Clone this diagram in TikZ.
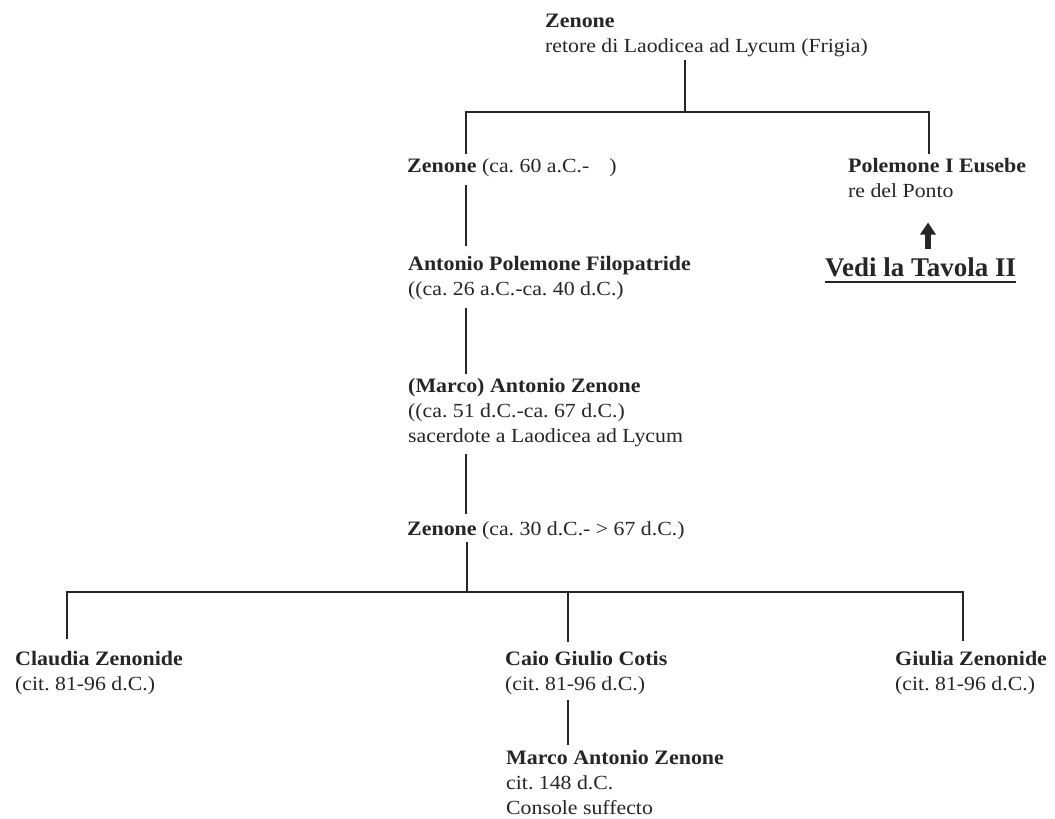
\documentclass[tikz,border=0pt]{standalone}
\usepackage{fontspec}
\setmainfont{Liberation Serif}[FakeStretch=1.09]
\newfontfamily\namefont{Liberation Serif}[FakeStretch=1.07]
\newfontfamily\reffont{Liberation Serif}
\usetikzlibrary{arrows.meta}
\definecolor{ink}{HTML}{262626}
% bold name line inside a person entry
\newcommand\pname[1]{{\namefont\fontsize{20.5}{25}\selectfont\bfseries #1}}

\begin{document}
\frenchspacing
\begin{tikzpicture}[x=1pt,y=-1pt,
  person/.style={anchor=base west, align=left, inner sep=0pt, text=ink,
                 font=\fontsize{20}{25}\selectfont},
  link/.style={draw=ink, line width=2.9pt},
  pointer/.style={draw=ink, fill=ink, line width=6pt,
                  -{Triangle[width=15pt,length=12pt]}},
  seeref/.style={anchor=base west, inner sep=0pt, text=ink,
                 font=\reffont\fontsize{27}{30}\selectfont\bfseries}]

\fill[white] (0,0) rectangle (1055,819);
\useasboundingbox (0,0) rectangle (1055,819);

% ---- persons (placed by the baseline of their last line) ----
\node[person] (zt)   at (545,52.5)  {\pname{Zenone}\\retore di Laodicea ad Lycum (Frigia)};
\node[person] (z60)  at (407,172)   {\pname{Zenone} (ca. 60 a.C.-\hspace*{20pt})};
\node[person] (pol)  at (848,197.3) {\pname{Polemone I Eusebe}\\re del Ponto};
\node[person] (apf)  at (408,295.7) {\pname{Antonio Polemone Filopatride}\\((ca. 26 a.C.-ca. 40 d.C.)};
\node[person] (maz)  at (408,442.5) {\pname{(Marco) Antonio Zenone}\\((ca. 51 d.C.-ca. 67 d.C.)\\sacerdote a Laodicea ad Lycum};
\node[person] (z30)  at (407,535)   {\pname{Zenone} (ca. 30 d.C.- > 67 d.C.)};
\node[person] (cz)   at (15,690)    {\pname{Claudia Zenonide}\\(cit. 81-96 d.C.)};
\node[person] (cgc)  at (505,690)   {\pname{Caio Giulio Cotis}\\(cit. 81-96 d.C.)};
\node[person] (gz)   at (895,690)   {\pname{Giulia Zenonide}\\(cit. 81-96 d.C.)};
\node[person] (mazb) at (506,814.3) {\pname{Marco Antonio Zenone}\\cit. 148 d.C.\\Console suffecto};

\node[seeref] (vedi) at (825,276.7) {Vedi la Tavola II};

% ---- line columns and junctions ----
\coordinate (top)   at (685,112);
\coordinate (spine) at (466,0);
\coordinate (rcol)  at (929,0);
\coordinate (bus)   at (467,592);
\coordinate (lcol)  at (67,0);
\coordinate (mcol)  at (568,0);
\coordinate (gcol)  at (963,0);
\coordinate (arrtop) at (928,222.5);

% ---- first generation ----
\draw[link] ([yshift=-3pt]zt.south -| top) -- (top);
\draw[link] ([yshift=3.5pt]z60.north -| spine) |- (top) -| ([yshift=3.5pt]pol.north -| rcol);

% ---- descent along the left column ----
\draw[link] ([yshift=-9pt]z60.south -| spine) -- ([yshift=10.5pt]apf.north -| spine);
\draw[link] ([yshift=-8pt]apf.south -| spine) -- ([yshift=4.5pt]maz.north -| spine);
\draw[link] ([yshift=-7pt]maz.south -| spine) -- ([yshift=6.5pt]z30.north -| spine);
\draw[link] ([yshift=-2.7pt]z30.south -| bus) -- (bus);

% ---- children of the last Zenone ----
\draw[link] ([yshift=11.5pt]cz.north -| lcol) |- (bus) -| ([yshift=9.5pt]gz.north -| gcol);
\draw[link] (bus -| mcol) -- ([yshift=9pt]cgc.north -| mcol);
\draw[link] ([yshift=-6pt]cgc.south -| mcol) -- ([yshift=4.5pt]mazb.north -| mcol);

% ---- cross reference ----
\draw[pointer] ([yshift=9pt]vedi.north -| arrtop) -- (arrtop);
\draw[ink, line width=2.4pt] ([yshift=-5pt]vedi.base west) -- ([yshift=-5pt]vedi.base east);
\end{tikzpicture}
\end{document}
